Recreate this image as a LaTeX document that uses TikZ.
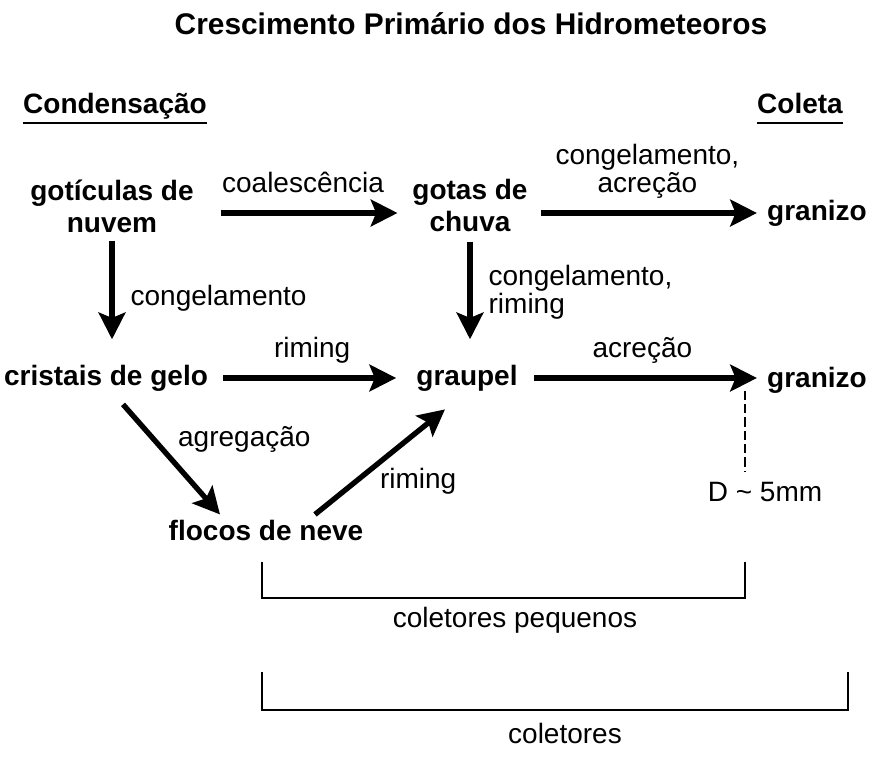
\documentclass[tikz,border=0pt]{standalone}
\usepackage{fontspec}
\setmainfont{Liberation Sans}
\usetikzlibrary{arrows.meta}
\begin{document}
\begin{tikzpicture}[x=0.75pt,y=-0.75pt,
        hydro/.style={font=\fontsize{21}{24}\selectfont\bfseries,align=center,inner sep=0pt},
        heading/.style={font=\fontsize{21}{24}\selectfont\bfseries,inner xsep=0pt,inner ysep=3pt,text depth=4.5pt},
        proc/.style={font=\fontsize{21}{21}\selectfont,align=center,inner sep=3pt},
        flow/.style={line width=4pt,-{Stealth[length=20pt,width=20pt,inset=4pt]}},
        dashline/.style={dashed,dash pattern=on 7pt off 3pt,line width=2pt},
        bracket/.style={line width=0.9pt}]
    \useasboundingbox (0,0) rectangle (890,758);
    % titulo e colunas
    \node[font=\fontsize{22.4}{26}\selectfont\bfseries] (title) at (471,24) {Crescimento Primário dos Hidrometeoros};
    \node[heading] (cond) at (115,106) {Condensação};
    \node[heading] (coleta) at (800,106) {Coleta};
    \draw[line width=1.6pt] (cond.south west) -- (cond.south east);
    \draw[line width=1.6pt] (coleta.south west) -- (coleta.south east);
    % hidrometeoros
    \node[hydro] (gotic) at (112,206) {gotículas de\\nuvem};
    \node[hydro] (gotas) at (470,205) {gotas de\\chuva};
    \node[hydro] (gran1) at (817,213) {granizo};
    \node[hydro] (crist) at (106,378) {cristais de gelo};
    \node[hydro] (graupel) at (467,378) {graupel};
    \node[hydro] (gran2) at (817,380) {granizo};
    \node[hydro] (flocos) at (266,530) {flocos de neve};
    \node[proc] (dlab) at (765,492) {D \textasciitilde{} 5mm};
    % processos
    \draw[flow,shorten <=20pt,shorten >=11pt] (gotic.east |- gran1) -- node[proc,above=10pt] {coalescência} (gotas.west |- gran1);
    \draw[flow,shorten <=10pt,shorten >=7.5pt] (gotas.east |- gran1) -- node[proc,above=6pt] {congelamento,\\acreção} (gran1.west);
    \draw[flow,shorten <=6pt,shorten >=19pt] (gotic.south) -- node[proc,right=9pt] {congelamento} (gotic.south |- crist.north);
    \draw[flow,shorten <=7.5pt,shorten >=19pt] (gotas.south) -- node[proc,right=9pt,yshift=4.5pt,align=left] {congelamento,\\riming} (gotas.south |- graupel.north);
    \draw[flow,shorten <=11pt,shorten >=15pt] (crist.east) -- node[proc,above=6pt] {riming} (graupel.west);
    \draw[flow,shorten <=12pt,shorten >=7.5pt] (graupel.east) -- node[proc,above=6pt] {acreção} (graupel.east -| gran2.west);
    \draw[flow] ([xshift=12.75pt,yshift=-9.75pt]crist.south) -- node[proc,above right] {agregação} ([xshift=-34.5pt,yshift=3.75pt]flocos.north);
    \draw[flow] ([xshift=36.75pt,yshift=3.75pt]flocos.north) -- node[proc,below right,xshift=-5pt] {riming} ([xshift=-16.5pt,yshift=-13.5pt]graupel.south);
    % diametro
    \coordinate (dtop) at ([xshift=-16.5pt,yshift=2pt]gran2.south west);
    \draw[dashline,shorten >=5pt] (dtop) -- (dtop |- dlab.north);
    % coletores
    \draw[bracket] (262,562) -- (262,598) -- (745,598) -- (745,562);
    \node[proc] (pequenos) at (515,620) {coletores pequenos};
    \draw[bracket] (262,672) -- (262,710) -- (848,710) -- (848,672);
    \node[proc] (coletores) at (565,733) {coletores};
\end{tikzpicture}
\end{document}
